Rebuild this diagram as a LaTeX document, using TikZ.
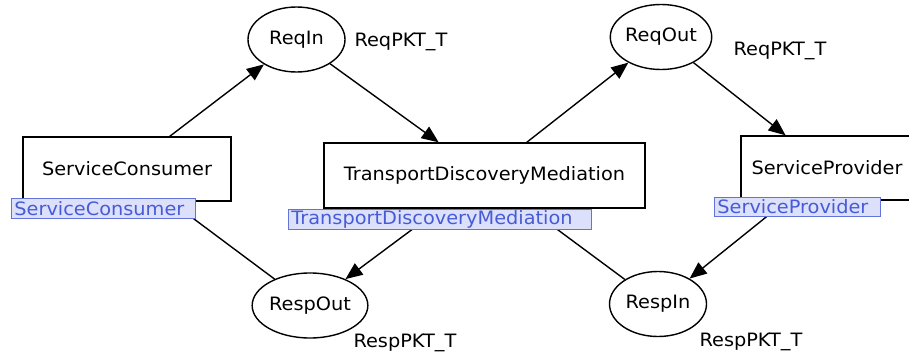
\documentclass[tikz,border=0pt]{standalone}
\usepackage{fontspec}
\setmainfont{DejaVu Sans}[FakeStretch=1.05]
\usetikzlibrary{arrows.meta,shapes.geometric}
\definecolor{lblblue}{RGB}{70,92,214}
\definecolor{lblfill}{RGB}{221,224,251}

\begin{document}
\begin{tikzpicture}[x=1pt, y=-1pt,
    every node/.style={font=\fontsize{18.4}{21}\selectfont},
    place/.style={ellipse, draw, line width=1.4pt, minimum width=97pt, minimum height=65pt, inner sep=0pt},
    trans/.style={rectangle, draw, line width=1.4pt, inner sep=0pt},
    lbl/.style={rectangle, draw=lblblue!85, fill=lblfill, text=lblblue, line width=0.9pt,
        anchor=north west, inner xsep=3pt, inner ysep=0pt, align=left},
    arc/.style={-{Triangle[length=17pt, width=14pt]}, line width=1.4pt}]

    \clip (0,0) rectangle (909,356);

    % Transitions
    \node[trans, minimum width=208pt, minimum height=64pt] (sc) at (127,169) {ServiceConsumer};
    \node[trans, minimum width=321pt, minimum height=65pt] (tdm) at (484.5,175.5) {TransportDiscoveryMediation};
    \node[trans, minimum width=172pt, minimum height=64pt] (sp) at (827,168) {ServiceProvider};

    % Places
    \foreach \n/\x/\y in {ReqIn/296.5/39.5, ReqOut/661/37, RespOut/310/305.5, RespIn/658/304} {
        \node[place] (\n) at (\x,\y) {\n};
    }

    % Arcs
    \foreach \a/\b in {sc/ReqIn, ReqIn/tdm, tdm/ReqOut, ReqOut/sp,
                       sp/RespIn, RespIn/tdm, tdm/RespOut, RespOut/sc} {
        \draw[arc] (\a) -- (\b);
    }

    % Transition labels
    \node[lbl, text width=178pt, minimum height=20pt] (sclbl) at (11,198) {ServiceConsumer};
    \node[lbl, text width=297pt, minimum height=20pt] (tdmlbl) at (288,209) {TransportDiscoveryMediation};
    \node[lbl, text width=160pt, minimum height=19pt] (splbl) at (714,197) {ServiceProvider};

    % Place types
    \node[anchor=west] (reqintype) at (351,42) {ReqPKT\_T};
    \node[anchor=west] (reqouttype) at (730,51) {ReqPKT\_T};
    \node[anchor=west] (resptype) at (350,343) {RespPKT\_T};
    \node[anchor=west] (respintype) at (696,342) {RespPKT\_T};
\end{tikzpicture}
\end{document}
